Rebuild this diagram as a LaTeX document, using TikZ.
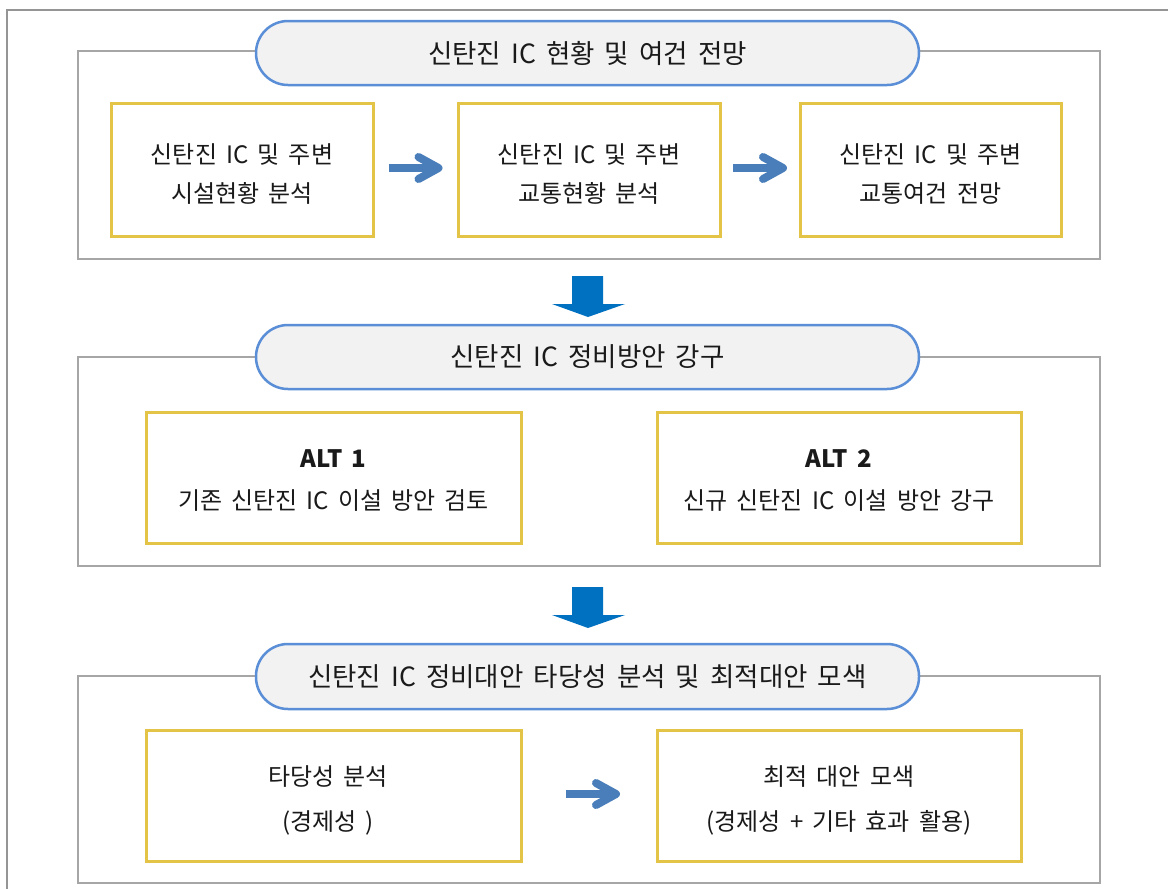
\documentclass[tikz,border=0pt]{standalone}
\usepackage{fontspec}
\newfontfamily\kr{Noto Sans CJK KR}[WordSpace=1.7]
\definecolor{framegray}{HTML}{A6A6A6}
\definecolor{boxyellow}{HTML}{E3C446}
\definecolor{pillblue}{HTML}{5A8FD8}
\definecolor{pillfill}{HTML}{F2F2F2}
\definecolor{arrowblue}{HTML}{4A7EBB}
\definecolor{downblue}{HTML}{0070C0}
\definecolor{txtcol}{HTML}{1A1A1A}
\tikzset{
  outerline/.style={draw=framegray!90!black, line width=2pt},
  framebox/.style={rectangle, draw=framegray, line width=2.5pt, inner sep=0pt},
  pillbox/.style={rectangle, draw=pillblue, fill=pillfill, line width=2.5pt, rounded corners=32pt, minimum width=663pt, inner sep=0pt, text=txtcol, font=\kr\fontsize{26.5}{30}\selectfont},
  ybox/.style={rectangle, draw=boxyellow, line width=3pt, inner sep=0pt},
  btxt/.style={align=center, text=txtcol, inner sep=0pt},
  rarrow/.pic={
    \draw[arrowblue, line width=8pt] (-27,0) -- (20,0);
    \draw[arrowblue, line width=8pt, line cap=round, line join=round] (3,-11) -- (23,0) -- (3,11);
  },
  darrow/.pic={
    \fill[downblue] (-16,0) -- (15,0) -- (15,28) -- (37,28) -- (0,41) -- (-36,28) -- (-16,28) -- cycle;
  }
}
\begin{document}
\begin{tikzpicture}[x=1pt,y=-1pt]
\useasboundingbox (0,0) rectangle (1168,889);
\fill[white] (0,0) rectangle (1168,889);
\draw[outerline] (7,889) -- (7,10) -- (1168,10);

% frames
\node[framebox, minimum width=1022pt, minimum height=208pt] (f1) at (589,155) {};
\node[framebox, minimum width=1022pt, minimum height=209pt] (f2) at (589,461.5) {};
\node[framebox, minimum width=1022pt, minimum height=207pt] (f3) at (589,779.5) {};

% headers
\node[pillbox, minimum height=64pt] (p1) at (587.5,53) {신탄진 IC 현황 및 여건 전망};
\node[pillbox, minimum height=64pt] (p2) at (587.5,357) {신탄진 IC 정비방안 강구};
\node[pillbox, minimum height=65pt] (p3) at (587.5,676.5) {신탄진 IC 정비대안 타당성 분석 및 최적대안 모색};

% section 1 boxes
\node[ybox, minimum width=262pt, minimum height=133pt] (b11) at (242,169.5) {};
\node[ybox, minimum width=262pt, minimum height=133pt] (b12) at (589,169.5) {};
\node[ybox, minimum width=261pt, minimum height=133pt] (b13) at (930.5,169.5) {};
\node[btxt, font=\kr\fontsize{24}{39}\selectfont] (t11) at (b11.center) [yshift=-5pt] {신탄진 IC 및 주변\\시설현황 분석};
\node[btxt, font=\kr\fontsize{24}{39}\selectfont] (t12) at (b12.center) [yshift=-5pt] {신탄진 IC 및 주변\\교통현황 분석};
\node[btxt, font=\kr\fontsize{24}{39}\selectfont] (t13) at (b13.center) [yshift=-5pt] {신탄진 IC 및 주변\\교통여건 전망};

% section 2 boxes
\node[ybox, minimum width=375pt, minimum height=131pt] (b21) at (333.5,477.5) {};
\node[ybox, minimum width=364pt, minimum height=131pt] (b22) at (839,477.5) {};
\node[btxt, font=\kr\fontsize{24}{42}\selectfont] (t21) at (333.5,481) {\bfseries ALT 1\\기존 신탄진 IC 이설 방안 검토};
\node[btxt, font=\kr\fontsize{24}{42}\selectfont] (t22) at (839,481) {\bfseries ALT 2\\신규 신탄진 IC 이설 방안 강구};

% section 3 boxes
\node[ybox, minimum width=375pt, minimum height=131pt] (b31) at (333.5,795.5) {};
\node[ybox, minimum width=364pt, minimum height=131pt] (b32) at (839,795.5) {};
\node[btxt, font=\kr\fontsize{24}{45}\selectfont] (t31) at (328,800) {타당성 분석\\(경제성 )};
\node[btxt, font=\kr\fontsize{24}{45}\selectfont] (t32) at (839,800) {최적 대안 모색\\(경제성 + 기타 효과 활용)};

% arrows
\pic at (415.5,168) {rarrow};
\pic at (760,168) {rarrow};
\pic at (593,794) {rarrow};
\pic at (588,276) {darrow};
\pic at (588,587) {darrow};
\end{tikzpicture}
\end{document}
